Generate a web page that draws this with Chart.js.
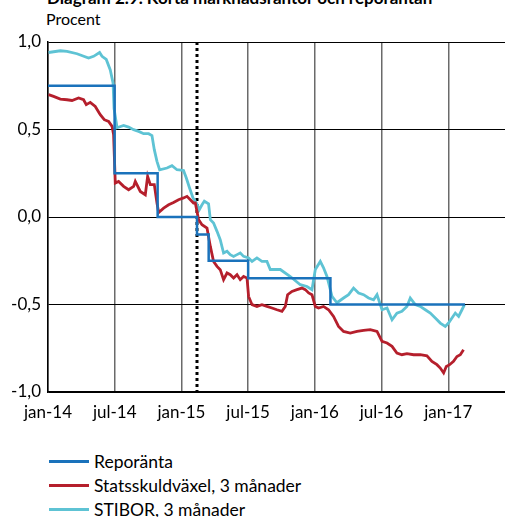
<!DOCTYPE html>
<html>
<head>
<meta charset="utf-8">
<script src="https://cdn.jsdelivr.net/npm/chart.js@4"></script>
<style>
  body { margin: 0; width: 505px; height: 517px; overflow: hidden; position: relative; background: #fff; font-family: Lato, "Open Sans", sans-serif; color: #000; }
  #title { position: absolute; left: 47px; top: -11px; font-weight: bold; font-size: 17px; line-height: 17px; white-space: nowrap; }
  #unit { position: absolute; left: 46px; top: 10px; font-size: 16px; line-height: 18px; }
  #chart { position: absolute; left: 0; top: 0; }
  #legend { position: absolute; left: 49px; top: 449px; font-size: 17.5px; }
  .item { height: 24px; display: flex; align-items: center; }
  .swatch { width: 40px; height: 3px; margin-right: 5px; }
</style>
</head>
<body>
<div id="title">Diagram 2.9. Korta marknadsräntor och reporäntan</div>
<div id="unit">Procent</div>
<canvas id="chart" width="505" height="430"></canvas>
<div id="legend"></div>
<script>
/* x = månader sedan jan-14 */
const TICK_MONTHS = [0, 6, 12, 18, 24, 30, 36];
const TICK_LABELS = ['jan-14', 'jul-14', 'jan-15', 'jul-15', 'jan-16', 'jul-16', 'jan-17'];
const X_MAX = 41.1;
const DOTTED_AT = 13.4;

const SERIES_NAMES = ['Reporänta', 'Statsskuldväxel, 3 månader', 'STIBOR, 3 månader'];
const COLORS = ['#1a72bb', '#b51f2c', '#5ec3d4'];

/* Reporänta: ny nivå från respektive tidpunkt */
const REPO = [
  [0, 0.75], [5.99, 0.25], [9.86, 0], [13.4, -0.1], [14.45, -0.25],
  [18.0, -0.35], [25.4, -0.5], [37.5, -0.5]
];

const STATSSKULD = [
  [0.05, 0.699], [0.5, 0.689], [1.11, 0.674], [1.71, 0.67], [2.16, 0.666], [2.75, 0.68],
  [3.2, 0.67], [3.44, 0.642], [3.8, 0.655], [4.25, 0.632], [4.7, 0.585], [5.06, 0.556],
  [5.45, 0.546], [5.76, 0.518], [5.9, 0.47], [6.05, 0.194], [6.35, 0.203], [6.8, 0.175],
  [7.25, 0.156], [7.7, 0.175], [7.85, 0.203], [8.3, 0.146], [8.75, 0.127], [8.96, 0.232],
  [9.2, 0.185], [9.56, 0.185], [9.8, 0.08], [9.95, 0.026], [10.4, 0.051], [10.85, 0.07],
  [11.29, 0.083], [11.74, 0.099], [12.19, 0.109], [12.5, 0.118], [12.8, 0.099], [13.09, 0.08],
  [13.25, 0.08], [13.4, 0.032], [13.54, -0.015], [13.85, -0.044], [14.3, -0.063], [14.6, -0.168],
  [14.89, -0.254], [15.2, -0.282], [15.49, -0.301], [15.79, -0.358], [16.1, -0.32], [16.39, -0.33],
  [16.69, -0.349], [17.0, -0.33], [17.29, -0.358], [17.59, -0.34], [17.9, -0.349], [18.04, -0.454],
  [18.35, -0.501], [18.79, -0.511], [19.24, -0.501], [19.69, -0.511], [20.14, -0.52], [20.59, -0.53],
  [21.04, -0.539], [21.34, -0.511], [21.55, -0.444], [21.94, -0.425], [22.39, -0.415], [22.84, -0.406],
  [23.14, -0.415], [23.44, -0.434], [23.74, -0.444], [24.04, -0.511], [24.33, -0.52], [24.78, -0.511],
  [25.23, -0.53], [25.68, -0.568], [26.13, -0.625], [26.58, -0.654], [27.18, -0.663], [27.79, -0.654],
  [28.38, -0.648], [28.98, -0.644], [29.59, -0.654], [30.04, -0.711], [30.49, -0.72], [30.94, -0.739],
  [31.38, -0.777], [31.83, -0.787], [32.28, -0.781], [32.88, -0.787], [33.48, -0.787], [34.08, -0.793],
  [34.53, -0.825], [34.98, -0.844], [35.28, -0.863], [35.58, -0.891], [35.82, -0.854], [36.12, -0.844],
  [36.47, -0.825], [36.78, -0.797], [37.08, -0.787], [37.37, -0.758]
];

const STIBOR = [
  [0.05, 0.94], [1.11, 0.95], [1.71, 0.946], [2.61, 0.933], [3.65, 0.908], [4.1, 0.918],
  [4.64, 0.94], [4.86, 0.918], [5.24, 0.9], [5.6, 0.84], [5.85, 0.766], [5.94, 0.62],
  [6.21, 0.51], [6.8, 0.523], [7.25, 0.514], [7.7, 0.499], [8.15, 0.489], [8.6, 0.476],
  [9.05, 0.476], [9.35, 0.465], [9.56, 0.385], [9.8, 0.318], [10.04, 0.27], [10.7, 0.28],
  [11.15, 0.293], [11.6, 0.27], [12.19, 0.266], [12.44, 0.223], [12.73, 0.166], [13.04, 0.109],
  [13.34, 0.08], [13.61, 0.042], [13.85, 0.07], [14.06, 0.09], [14.44, 0.075], [14.6, -0.015],
  [14.89, -0.034], [15.2, -0.082], [15.49, -0.13], [15.79, -0.206], [16.1, -0.196], [16.39, -0.215],
  [16.69, -0.225], [17.0, -0.215], [17.29, -0.206], [17.59, -0.225], [18.04, -0.234], [18.35, -0.254],
  [18.79, -0.234], [19.24, -0.254], [19.69, -0.254], [19.99, -0.3], [20.89, -0.3], [21.79, -0.34],
  [22.69, -0.387], [23.29, -0.397], [23.74, -0.415], [24.04, -0.3], [24.49, -0.254], [24.78, -0.29],
  [25.09, -0.34], [25.54, -0.454], [25.99, -0.49], [26.58, -0.463], [27.03, -0.444], [27.48, -0.406],
  [27.93, -0.434], [28.38, -0.444], [28.83, -0.463], [29.28, -0.473], [29.59, -0.444], [30.04, -0.53],
  [30.49, -0.52], [30.94, -0.587], [31.38, -0.549], [31.83, -0.539], [32.28, -0.511], [32.58, -0.463],
  [33.03, -0.501], [33.48, -0.511], [33.93, -0.53], [34.38, -0.549], [34.83, -0.577], [35.28, -0.606],
  [35.73, -0.625], [36.02, -0.606], [36.33, -0.577], [36.63, -0.549], [36.93, -0.568], [37.23, -0.53],
  [37.46, -0.501]
];

const toPts = arr => arr.map(([x, y]) => ({ x, y }));
const FONT = { family: 'Lato, "Open Sans", sans-serif', size: 17 };

const chart = new Chart(document.getElementById('chart'), {
  type: 'line',
  data: {
    datasets: [
      { label: SERIES_NAMES[0], data: toPts(REPO), borderColor: COLORS[0], borderWidth: 2.5, stepped: true },
      { label: SERIES_NAMES[1], data: toPts(STATSSKULD), borderColor: COLORS[1], borderWidth: 2.8 },
      { label: SERIES_NAMES[2], data: toPts(STIBOR), borderColor: COLORS[2], borderWidth: 2.8 },
      // streckad markering
      { label: '', data: [{ x: DOTTED_AT, y: 1 }, { x: DOTTED_AT, y: -1 }], borderColor: '#000',
        borderWidth: 3, borderDash: [3, 3], order: 5 }
    ]
  },
  options: {
    responsive: false,
    animation: false,
    devicePixelRatio: 1,
    elements: { point: { radius: 0 }, line: { tension: 0, fill: false } },
    layout: { padding: { top: 42, left: 0, right: 0, bottom: 0 } },
    plugins: { legend: { display: false }, tooltip: { enabled: false } },
    scales: {
      x: {
        type: 'linear', min: 0, max: X_MAX,
        afterBuildTicks: s => { s.ticks = TICK_MONTHS.map(v => ({ value: v })); },
        afterFit: s => { s.height = 38; },
        grid: { color: '#6a6a6a', lineWidth: 1.5, drawTicks: false },
        border: { color: '#000', width: 1.5 },
        ticks: {
          color: '#000', font: FONT, padding: 10, maxRotation: 0, autoSkip: false,
          callback: v => TICK_LABELS[TICK_MONTHS.indexOf(v)] || ''
        }
      },
      y: {
        min: -1, max: 1,
        afterFit: s => { s.width = 48; },
        grid: { color: '#000', lineWidth: 1, drawTicks: false },
        border: { color: '#000', width: 1.5 },
        ticks: {
          stepSize: 0.5, color: '#000', font: FONT, padding: 7,
          callback: v => v.toFixed(1).replace('.', ',')
        }
      }
    }
  }
});

/* Legend i HTML */
document.getElementById('legend').innerHTML = chart.data.datasets.slice(0, 3).map(ds =>
  `<div class="item"><span class="swatch" style="background:${ds.borderColor}"></span>${ds.label}</div>`
).join('');
</script>
</body>
</html>
